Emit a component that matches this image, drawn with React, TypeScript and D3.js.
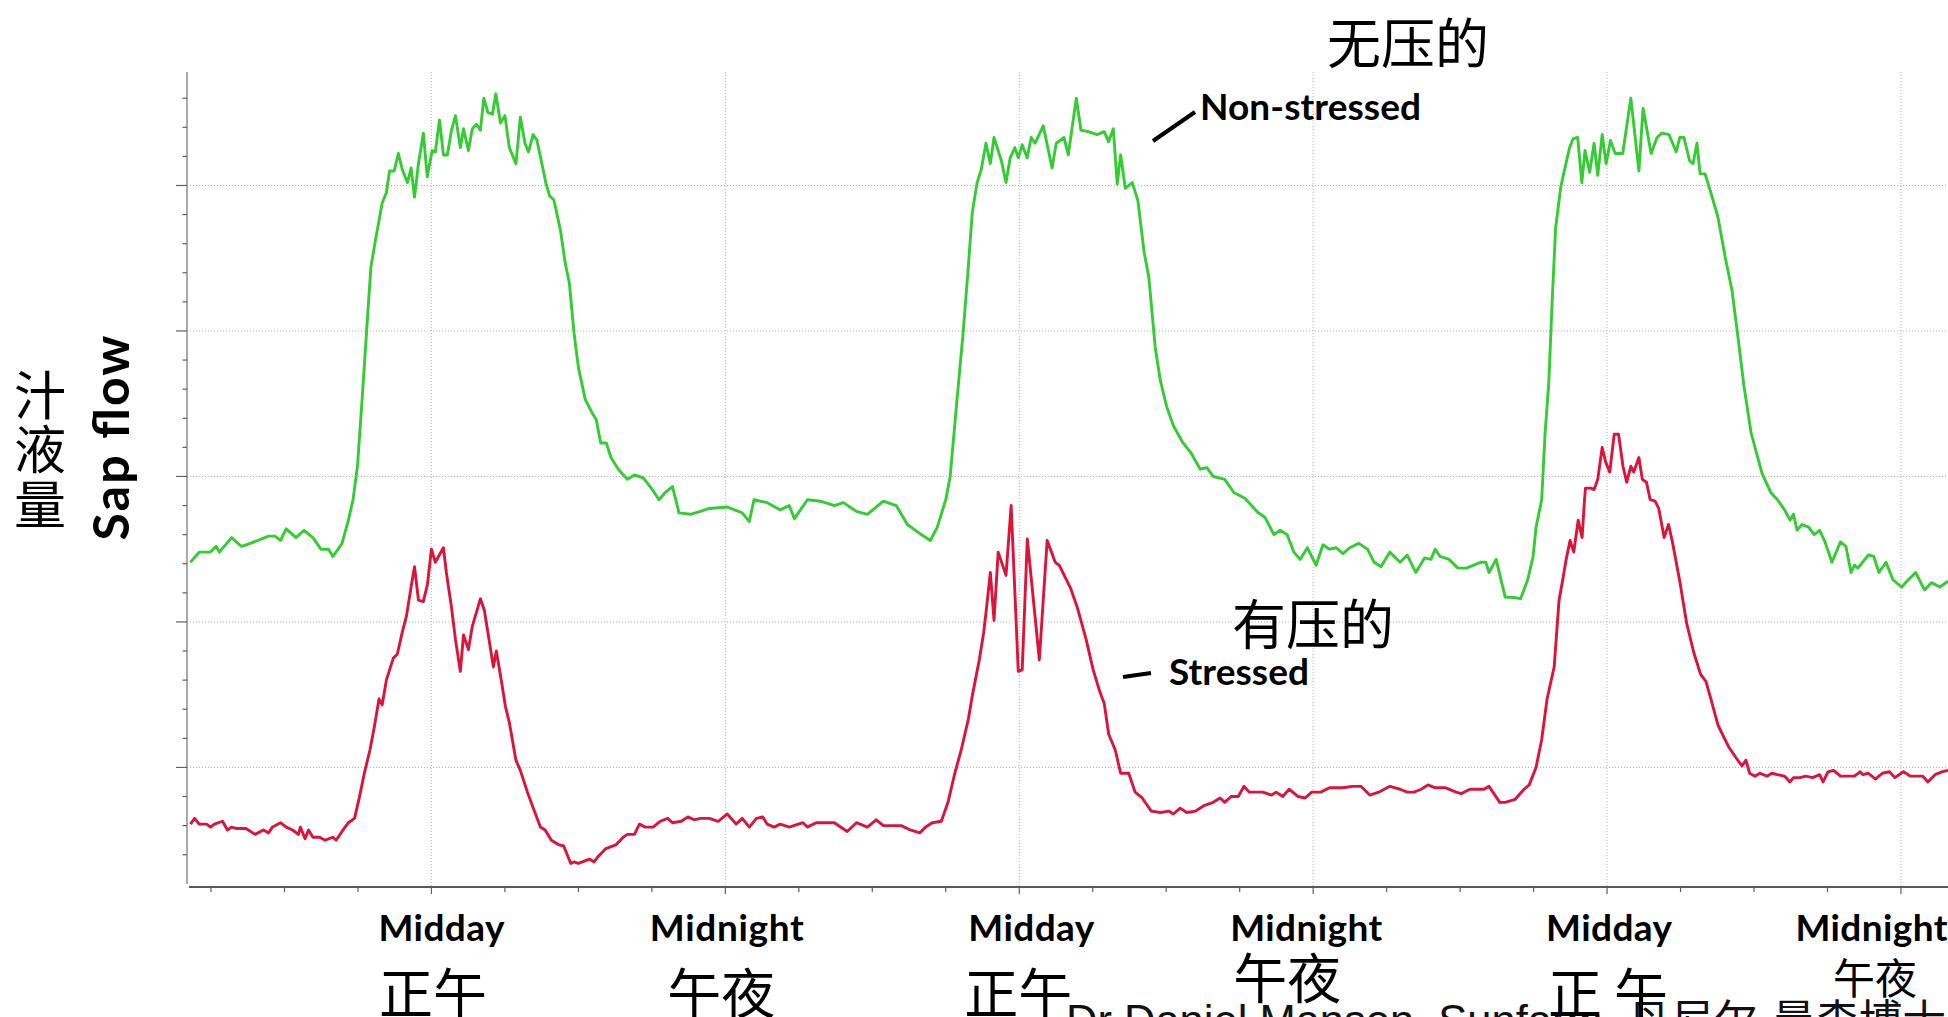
import React from "react";
import * as d3 from "d3";

// ---------- data (hours from start of day 1, sap flow in relative units) ----------
const nonStressed: [number, number][] = [
  [2.16,2.41],[2.52,2.48],[2.98,2.48],[3.21,2.52],[3.34,2.48],[3.84,2.58],[4.24,2.52],[4.61,2.54],[5.35,2.59],[5.61,2.59],
  [5.84,2.56],[6.07,2.64],[6.47,2.58],[6.80,2.63],[7.16,2.58],[7.49,2.50],[7.80,2.50],[7.98,2.45],[8.35,2.54],[8.61,2.70],
  [8.80,2.84],[8.98,3.07],[9.17,3.53],[9.35,3.99],[9.53,4.44],[9.71,4.62],[9.99,4.88],[10.16,4.95],[10.29,5.10],[10.48,5.10],
  [10.65,5.22],[10.81,5.11],[11.02,5.02],[11.17,5.12],[11.31,4.92],[11.47,5.15],[11.67,5.36],[11.83,5.06],[12.03,5.24],[12.16,5.23],
  [12.33,5.45],[12.49,5.21],[12.65,5.21],[12.82,5.38],[12.98,5.48],[13.18,5.26],[13.31,5.39],[13.51,5.24],[13.67,5.39],[13.84,5.42],
  [14.00,5.38],[14.14,5.60],[14.31,5.50],[14.49,5.49],[14.63,5.63],[14.82,5.43],[15.00,5.48],[15.18,5.26],[15.45,5.15],[15.63,5.47],
  [15.82,5.29],[15.96,5.23],[16.15,5.35],[16.31,5.31],[16.67,5.02],[16.82,4.93],[17.00,4.90],[17.27,4.69],[17.46,4.47],[17.63,4.33],
  [17.82,3.99],[18.00,3.75],[18.28,3.53],[18.55,3.44],[18.73,3.39],[18.91,3.23],[19.14,3.23],[19.33,3.13],[19.63,3.05],[20.00,2.98],
  [20.29,3.01],[20.65,2.99],[21.02,2.91],[21.29,2.84],[21.55,2.89],[21.84,2.93],[22.11,2.75],[22.57,2.74],[22.98,2.76],[23.35,2.78],
  [24.08,2.79],[24.69,2.75],[24.98,2.69],[25.17,2.84],[25.71,2.82],[26.24,2.77],[26.61,2.80],[26.82,2.71],[27.35,2.84],[27.88,2.83],
  [28.45,2.80],[28.82,2.82],[29.35,2.76],[29.80,2.74],[30.45,2.83],[30.98,2.80],[31.43,2.67],[31.92,2.61],[32.37,2.56],[32.65,2.65],
  [33.00,2.84],[33.18,3.00],[33.46,3.53],[33.71,3.99],[33.92,4.44],[34.08,4.81],[34.28,5.02],[34.45,5.11],[34.64,5.29],[34.82,5.15],
  [34.97,5.33],[35.27,5.17],[35.46,5.02],[35.63,5.19],[35.82,5.26],[35.96,5.19],[36.12,5.28],[36.32,5.19],[36.49,5.33],[36.64,5.29],
  [36.98,5.41],[37.34,5.12],[37.51,5.29],[37.83,5.33],[38.00,5.21],[38.33,5.60],[38.52,5.38],[38.82,5.37],[39.18,5.35],[39.47,5.37],
  [39.65,5.30],[39.84,5.39],[40.00,5.01],[40.14,5.21],[40.33,4.98],[40.61,5.02],[40.84,4.90],[41.10,4.54],[41.29,4.37],[41.55,3.89],
  [41.76,3.66],[42.02,3.48],[42.29,3.35],[42.65,3.24],[43.02,3.16],[43.39,3.05],[43.66,3.06],[43.92,3.00],[44.39,2.98],[44.76,2.89],
  [45.21,2.85],[45.76,2.75],[46.03,2.72],[46.40,2.60],[46.65,2.63],[46.94,2.60],[47.21,2.48],[47.47,2.43],[47.76,2.51],[48.12,2.39],
  [48.40,2.53],[48.67,2.50],[48.94,2.51],[49.22,2.47],[49.49,2.51],[49.86,2.54],[50.22,2.50],[50.49,2.41],[50.77,2.38],[51.13,2.48],
  [51.55,2.41],[51.84,2.46],[52.19,2.34],[52.55,2.44],[52.81,2.43],[52.98,2.50],[53.18,2.45],[53.55,2.43],[53.91,2.37],[54.26,2.37],
  [54.83,2.41],[55.05,2.41],[55.18,2.34],[55.47,2.43],[55.84,2.17],[56.12,2.17],[56.47,2.16],[56.76,2.29],[56.98,2.45],[57.10,2.65],
  [57.33,2.84],[57.47,3.30],[57.62,3.64],[57.76,4.21],[57.90,4.71],[58.11,4.99],[58.24,5.09],[58.47,5.26],[58.61,5.32],[58.80,5.33],
  [58.97,5.02],[59.10,5.24],[59.29,5.09],[59.47,5.29],[59.62,5.07],[59.80,5.35],[59.96,5.15],[60.14,5.31],[60.33,5.22],[60.47,5.22],
  [60.64,5.22],[60.97,5.60],[61.30,5.10],[61.47,5.53],[61.80,5.22],[62.04,5.33],[62.24,5.36],[62.53,5.35],[62.82,5.23],[62.97,5.33],
  [63.14,5.33],[63.37,5.17],[63.51,5.15],[63.67,5.29],[63.80,5.08],[64.00,5.08],[64.24,4.95],[64.53,4.78],[64.82,4.51],[65.10,4.28],
  [65.32,3.99],[65.59,3.62],[65.88,3.30],[66.33,3.02],[66.68,2.89],[66.96,2.84],[67.25,2.77],[67.47,2.70],[67.61,2.74],[67.76,2.63],
  [67.96,2.67],[68.24,2.65],[68.45,2.60],[68.68,2.63],[68.90,2.55],[69.18,2.41],[69.53,2.55],[69.75,2.52],[69.96,2.34],[70.10,2.39],
  [70.24,2.37],[70.67,2.46],[70.89,2.45],[71.10,2.34],[71.39,2.41],[71.67,2.29],[72.03,2.24],[72.24,2.28],[72.60,2.34],[72.96,2.22],
  [73.24,2.27],[73.59,2.24],[73.92,2.28],
];

const stressed: [number, number][] = [
  [2.16,0.61],[2.33,0.65],[2.52,0.61],[2.82,0.61],[2.98,0.59],[3.14,0.61],[3.47,0.63],[3.67,0.57],[3.84,0.59],[4.07,0.58],
  [4.43,0.58],[4.80,0.54],[5.14,0.57],[5.35,0.55],[5.51,0.59],[5.84,0.62],[6.07,0.59],[6.33,0.57],[6.57,0.54],[6.65,0.59],
  [6.84,0.51],[6.98,0.57],[7.16,0.52],[7.43,0.52],[7.66,0.50],[7.98,0.52],[8.11,0.50],[8.35,0.56],[8.61,0.62],[8.86,0.65],
  [9.04,0.78],[9.26,0.96],[9.49,1.12],[9.67,1.28],[9.86,1.47],[9.99,1.43],[10.16,1.60],[10.44,1.75],[10.61,1.78],[10.81,1.93],
  [10.98,2.04],[11.17,2.24],[11.31,2.38],[11.47,2.15],[11.67,2.14],[11.84,2.26],[12.00,2.50],[12.16,2.41],[12.49,2.51],[12.61,2.34],
  [12.82,2.10],[12.98,1.88],[13.18,1.66],[13.31,1.91],[13.51,1.81],[13.67,1.97],[14.00,2.16],[14.16,2.08],[14.37,1.86],[14.53,1.69],
  [14.65,1.80],[14.86,1.59],[15.02,1.42],[15.18,1.31],[15.45,1.05],[15.63,0.98],[15.92,0.83],[16.18,0.71],[16.45,0.59],[16.64,0.57],
  [16.90,0.50],[17.18,0.47],[17.40,0.46],[17.69,0.34],[17.82,0.35],[18.00,0.34],[18.45,0.37],[18.64,0.35],[18.82,0.39],[19.10,0.44],
  [19.55,0.47],[19.83,0.52],[20.00,0.54],[20.29,0.54],[20.49,0.61],[20.73,0.59],[21.05,0.59],[21.34,0.63],[21.65,0.65],[21.84,0.62],
  [22.20,0.63],[22.47,0.66],[22.73,0.64],[22.98,0.65],[23.35,0.65],[23.71,0.63],[24.08,0.68],[24.44,0.61],[24.69,0.65],[24.98,0.59],
  [25.27,0.65],[25.53,0.66],[25.71,0.61],[25.99,0.59],[26.24,0.61],[26.61,0.59],[27.17,0.62],[27.35,0.59],[27.71,0.62],[28.45,0.62],
  [28.98,0.56],[29.35,0.62],[29.80,0.59],[30.16,0.64],[30.45,0.60],[31.18,0.60],[31.55,0.57],[31.94,0.55],[32.18,0.59],[32.45,0.62],
  [32.82,0.63],[33.09,0.76],[33.37,0.96],[33.63,1.12],[33.92,1.33],[34.08,1.49],[34.37,1.74],[34.55,1.93],[34.64,2.06],[34.82,2.34],
  [34.97,2.01],[35.14,2.48],[35.46,2.32],[35.67,2.80],[35.96,1.66],[36.12,1.67],[36.33,2.57],[36.82,1.74],[37.14,2.56],[37.47,2.41],
  [37.63,2.39],[38.10,2.23],[38.37,2.10],[38.73,1.88],[39.02,1.67],[39.29,1.52],[39.47,1.44],[39.65,1.23],[39.92,1.12],[40.14,0.96],
  [40.47,0.96],[40.73,0.83],[41.02,0.79],[41.39,0.70],[41.76,0.69],[42.12,0.70],[42.29,0.68],[42.57,0.72],[42.84,0.69],[43.20,0.70],
  [43.57,0.74],[43.92,0.76],[44.20,0.79],[44.39,0.76],[44.65,0.80],[44.94,0.80],[45.18,0.87],[45.39,0.83],[45.94,0.83],[46.30,0.81],
  [46.49,0.83],[46.76,0.80],[47.02,0.85],[47.39,0.80],[47.67,0.79],[47.94,0.83],[48.31,0.83],[48.67,0.86],[49.22,0.86],[49.59,0.87],
  [49.95,0.87],[50.31,0.81],[50.68,0.83],[51.13,0.87],[51.55,0.85],[51.84,0.83],[52.12,0.83],[52.41,0.85],[52.69,0.88],[52.98,0.86],
  [53.41,0.86],[53.84,0.83],[54.04,0.82],[54.41,0.85],[54.98,0.85],[55.18,0.87],[55.62,0.76],[55.84,0.76],[56.24,0.78],[56.61,0.85],
  [56.82,0.88],[57.10,1.00],[57.33,1.19],[57.55,1.47],[57.84,1.69],[58.04,2.15],[58.19,2.29],[58.33,2.43],[58.49,2.56],[58.64,2.48],
  [58.82,2.70],[58.98,2.58],[59.08,2.84],[59.12,2.92],[59.33,2.92],[59.47,2.91],[59.62,2.98],[59.80,3.20],[59.94,3.10],[60.11,3.03],
  [60.29,3.29],[60.47,3.29],[60.65,3.07],[60.80,2.96],[60.97,3.07],[61.09,3.03],[61.30,3.13],[61.44,2.98],[61.61,2.96],[61.76,2.84],
  [61.96,2.83],[62.11,2.78],[62.33,2.58],[62.51,2.67],[62.68,2.54],[62.98,2.27],[63.25,1.99],[63.54,1.79],[63.82,1.64],[64.04,1.59],
  [64.24,1.47],[64.53,1.29],[64.97,1.14],[65.25,1.07],[65.51,1.01],[65.67,1.05],[65.82,0.96],[66.04,0.94],[66.24,0.96],[66.53,0.94],
  [66.73,0.96],[66.96,0.95],[67.25,0.94],[67.47,0.90],[67.61,0.93],[67.88,0.93],[68.11,0.94],[68.39,0.93],[68.68,0.95],[68.82,0.90],
  [69.02,0.97],[69.25,0.98],[69.53,0.94],[69.88,0.94],[70.10,0.94],[70.33,0.97],[70.45,0.95],[70.67,0.96],[70.96,0.92],[71.24,0.96],
  [71.53,0.97],[71.75,0.93],[72.10,0.97],[72.39,0.94],[72.67,0.94],[72.89,0.94],[73.10,0.90],[73.39,0.95],[73.67,0.97],[73.92,0.98],
];

const labelHours = [12, 24, 36, 48, 60, 72];
const timeLabels = ["Midday", "Midnight", "Midday", "Midnight", "Midday", "Midnight"];
const timeLabelsZh = ["正午", "午夜", "正午", "午夜", "正 午", "午夜"];
const seriesNames = ["Non-stressed", "Stressed"];
const seriesNamesZh = ["无压的", "有压的"];
const axisTitle = "Sap flow";
const axisTitleZh = ["汁", "液", "量"];
const credit = "Dr Daniel Manson, Sunfarm, 丹尼尔·曼森博士";

// ---------- layout ----------
const W = 1948;
const H = 1017;
const LATIN = "Lato, 'Open Sans', sans-serif";
const CJK = "'Noto Sans CJK SC', sans-serif";

export default function App() {
  const x = d3.scaleLinear().domain([2, 73.92]).range([186.5, 1948]);
  const y = d3.scaleLinear().domain([0.185, 5.78]).range([886, 72]);
  const line = d3
    .line<[number, number]>()
    .x((d) => x(d[0]))
    .y((d) => y(d[1]));

  const yMinor = d3.range(2, 29).map((i) => i / 5).filter((v) => Math.abs(v - Math.round(v)) > 1e-6);
  const yMajor = [1, 2, 3, 4, 5];
  const xTicks = d3.range(3, 73, 3);

  const enNudge = [10, 1.5, 12, -7, 2, -29.5];
  const enWidth = [126, 154, 126, 152, 126, 152];
  const zhNudge = [1.5, -4, -1, -26, 1, -26];
  const zhY = [990, 990, 990, 975, 990, 975];
  const zhSize = [54, 54, 54, 54, 54, 42];

  return (
    <svg
      width={W}
      height={H}
      viewBox={`0 0 ${W} ${H}`}
      style={{ position: "absolute", left: 0, top: 0, background: "#fff" }}
    >
      <rect x={0} y={0} width={W} height={H} fill="#fff" />

      {/* gridlines */}
      <g stroke="#b4b4b4" strokeWidth={1} strokeDasharray="1 2">
        {yMajor.map((v) => (
          <line key={"gy" + v} x1={187} x2={W} y1={y(v)} y2={y(v)} />
        ))}
        {labelHours.map((h) => (
          <line key={"gx" + h} x1={x(h)} x2={x(h)} y1={72} y2={886} />
        ))}
      </g>

      {/* axes */}
      <line x1={187} x2={187} y1={72} y2={884} stroke="#7a7a7a" strokeWidth={1.3} />
      <line x1={189} x2={W} y1={887} y2={887} stroke="#5a5a5a" strokeWidth={2} />
      <g stroke="#606060" strokeWidth={1.2}>
        {yMinor.map((v) => (
          <line key={"ym" + v} x1={182.5} x2={187} y1={y(v)} y2={y(v)} />
        ))}
        {yMajor.map((v) => (
          <line key={"yM" + v} x1={176} x2={187} y1={y(v)} y2={y(v)} />
        ))}
        {xTicks.map((h) => (
          <line key={"xt" + h} x1={x(h)} x2={x(h)} y1={887} y2={h % 12 === 0 ? 894 : 892} />
        ))}
      </g>

      {/* series */}
      <path d={line(nonStressed) || ""} fill="none" stroke="#33cc33" strokeWidth={2.9} strokeLinejoin="round" />
      <path d={line(stressed) || ""} fill="none" stroke="#dc143c" strokeWidth={2.9} strokeLinejoin="round" />

      {/* leader lines */}
      <line x1={1153} y1={141} x2={1195} y2={112} stroke="#000" strokeWidth={4} />
      <line x1={1123} y1={677} x2={1151} y2={673} stroke="#000" strokeWidth={4} />

      {/* series labels */}
      <text x={1200} y={120} fontFamily={LATIN} fontWeight={700} fontSize={37} textLength={221} fill="#000">
        {seriesNames[0]}
      </text>
      <text x={1169} y={685} fontFamily={LATIN} fontWeight={700} fontSize={37} textLength={140} fill="#000">
        {seriesNames[1]}
      </text>
      <text x={1327} y={40} fontFamily={CJK} fontSize={54} dominantBaseline="central" fill="#000">
        {seriesNamesZh[0]}
      </text>
      <text x={1232} y={621} fontFamily={CJK} fontSize={54} dominantBaseline="central" fill="#000">
        {seriesNamesZh[1]}
      </text>

      {/* y axis titles */}
      <text
        transform="translate(129,438) rotate(-90)"
        textAnchor="middle"
        fontFamily={LATIN}
        fontWeight={700}
        fontSize={50}
        textLength={205}
        fill="#000"
      >
        {axisTitle}
      </text>
      {axisTitleZh.map((c, i) => (
        <text
          key={c}
          x={40}
          y={392 + i * 54.5}
          textAnchor="middle"
          dominantBaseline="central"
          fontFamily={CJK}
          fontSize={52}
          fill="#000"
        >
          {c}
        </text>
      ))}

      {/* x labels */}
      {timeLabels.map((t, i) => (
        <text
          key={"en" + i}
          x={x(labelHours[i]) + enNudge[i]}
          y={941}
          textAnchor="middle"
          fontFamily={LATIN}
          fontWeight={700}
          fontSize={37}
          textLength={enWidth[i]}
          fill="#000"
        >
          {t}
        </text>
      ))}

      {/* credit */}
      <text x={1066} y={1036} fontFamily={"'Liberation Sans', Arial, 'Noto Sans CJK SC', sans-serif"} fontSize={43.5} fill="#111">
        {credit}
      </text>

      {timeLabelsZh.map((t, i) => (
        <text
          key={"zh" + i}
          x={x(labelHours[i]) + zhNudge[i]}
          y={zhY[i]}
          textAnchor="middle"
          dominantBaseline="central"
          fontFamily={CJK}
          fontSize={zhSize[i]}
          style={{ whiteSpace: "pre" }}
          fill="#000"
        >
          {t}
        </text>
      ))}
    </svg>
  );
}
